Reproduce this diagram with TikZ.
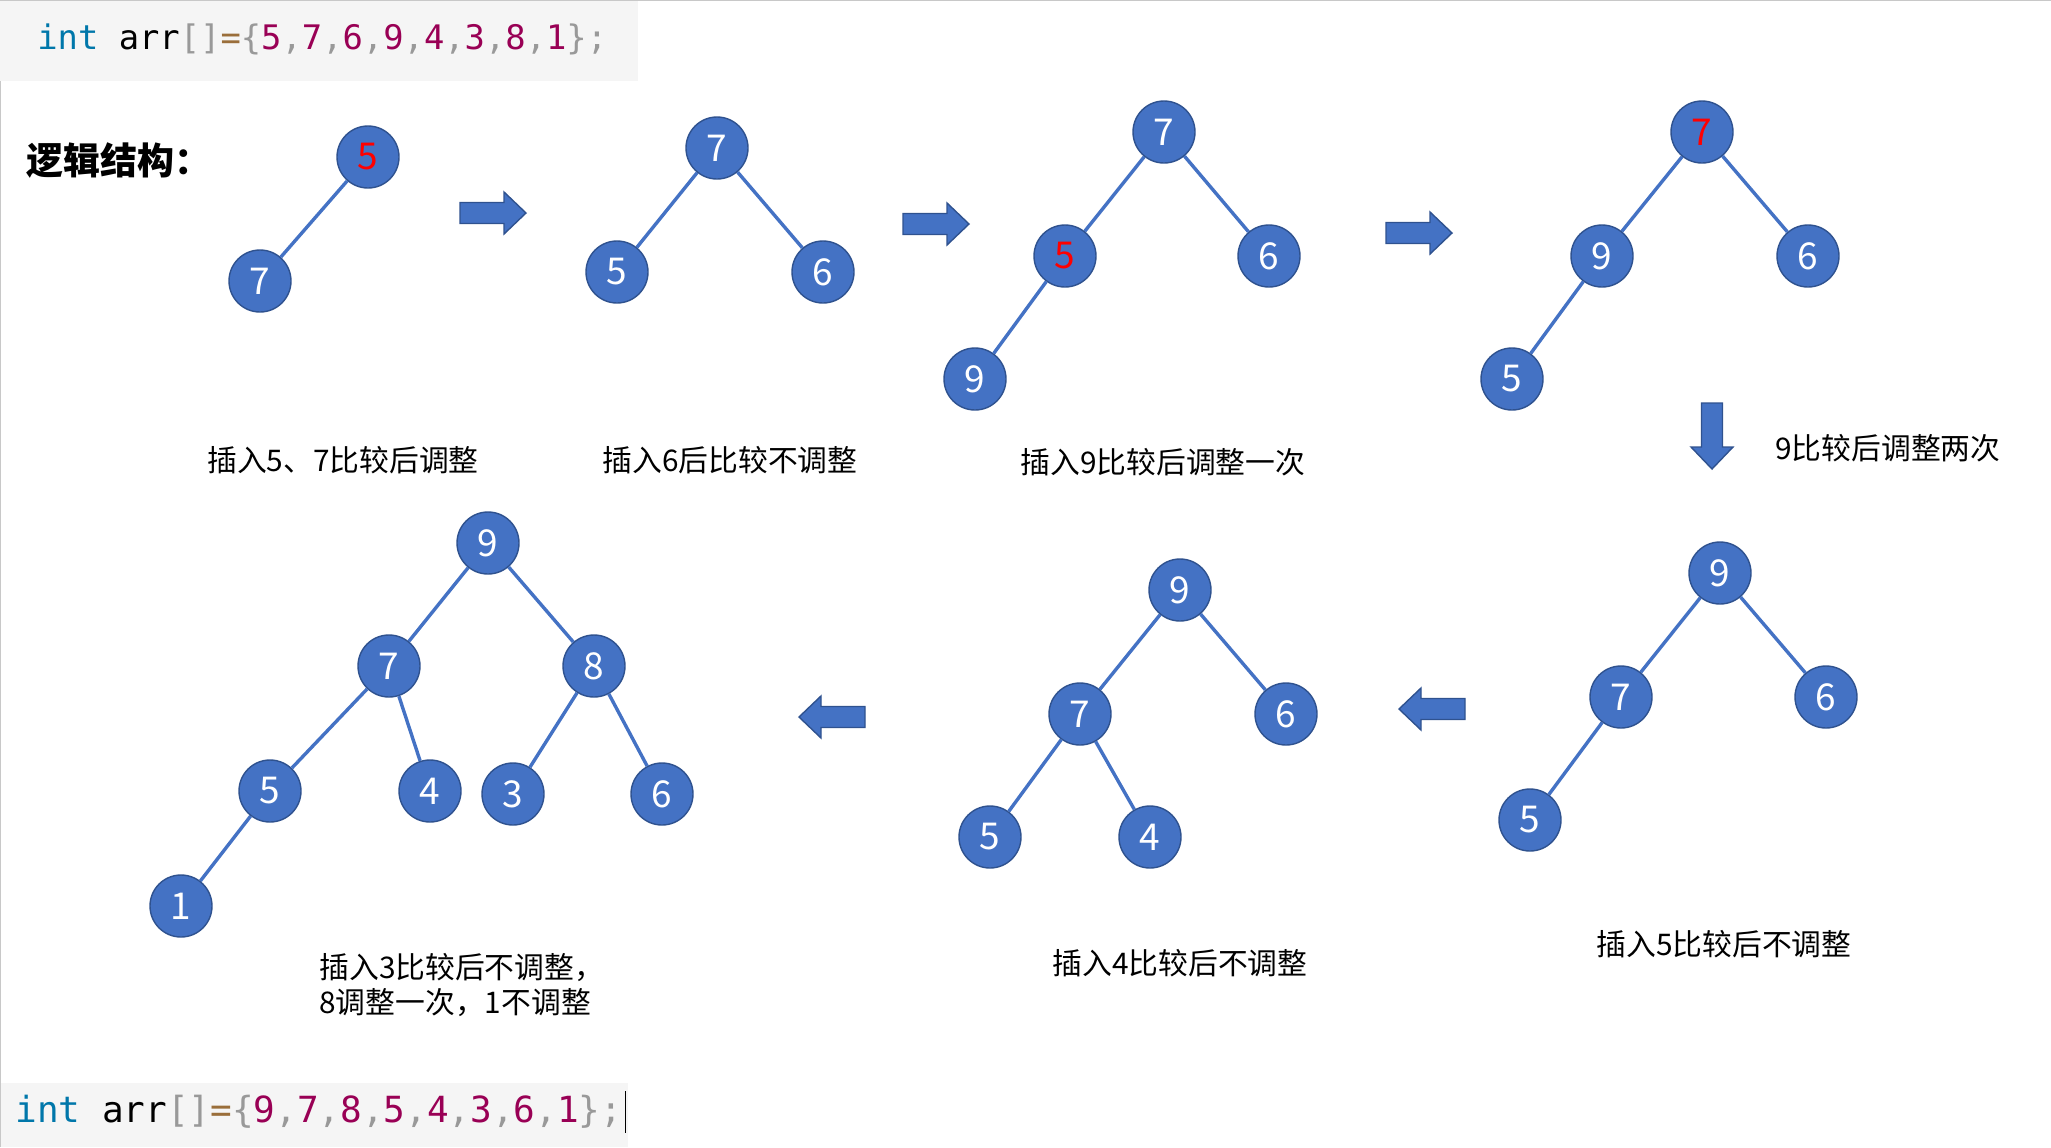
\documentclass[tikz,border=0pt]{standalone}
\usepackage{fontspec}
\usepackage{xcolor}
\usetikzlibrary{positioning}
\setmonofont{DejaVu Sans Mono}
\newfontfamily\cjk{Noto Sans CJK SC}
\definecolor{HeapBlue}{HTML}{4472C4}
\definecolor{HeapEdge}{HTML}{2F528F}
\definecolor{HeapRed}{HTML}{FF0000}
\definecolor{CodeBack}{HTML}{F5F5F5}
\definecolor{CodeKey}{HTML}{0077AA}
\definecolor{CodePunc}{HTML}{999999}
\definecolor{CodeOp}{HTML}{9A6E3A}
\definecolor{CodeNum}{HTML}{990055}
\definecolor{FrameGray}{HTML}{C8C8C8}
\newcommand\codenum[1]{\textcolor{CodeNum}{#1}}
\newcommand\codepunc[1]{\textcolor{CodePunc}{#1}}
\newcommand\arrline[1]{\textcolor{CodeKey}{int} arr\codepunc{[]}%
  \textcolor{CodeOp}{=}\codepunc{\{}#1\codepunc{\};}}
\tikzset{
  harrow/.pic={
    \draw[blockarrow] (-33,-10.5) -- (11,-10.5) -- (11,-21) -- (33,0)
      -- (11,21) -- (11,10.5) -- (-33,10.5) -- cycle;
  }
}

\begin{document}
\begin{tikzpicture}[x=0.5pt,y=-0.5pt,
    heap/.style={circle,fill=HeapBlue,draw=HeapEdge,line width=0.7pt,
      minimum size=31pt,inner sep=0pt,text=white,
      font=\cjk\fontsize{18.5}{18.5}\selectfont},
    hot/.style={text=HeapRed},
    link/.style={draw=HeapBlue,line width=1.7pt},
    blockarrow/.style={fill=HeapBlue,draw=HeapEdge,line width=0.7pt},
    caption/.style={text=black,inner sep=0pt,
      font=\cjk\fontsize{14.9}{17.2}\selectfont},
    code/.style={anchor=west,inner sep=0pt}]
  \useasboundingbox (0,0) rectangle (2051,1147);
  \draw[FrameGray,line width=1pt] (0,1147) -- (0,0) -- (2051,0);

  % code lines
  \fill[CodeBack] (0,1) rectangle (638,81);
  \node[code,font=\ttfamily\fontsize{16.9}{20}\selectfont] (topcode) at (37,39)
    {\arrline{\codenum{5}\codepunc{,}\codenum{7}\codepunc{,}\codenum{6}\codepunc{,}%
      \codenum{9}\codepunc{,}\codenum{4}\codepunc{,}\codenum{3}\codepunc{,}%
      \codenum{8}\codepunc{,}\codenum{1}}};
  \fill[CodeBack] (1,1083) rectangle (628,1147);
  \node[code,font=\ttfamily\fontsize{18}{21}\selectfont] (botcode) at (15,1112)
    {\arrline{\codenum{9}\codepunc{,}\codenum{7}\codepunc{,}\codenum{8}\codepunc{,}%
      \codenum{5}\codepunc{,}\codenum{4}\codepunc{,}\codenum{3}\codepunc{,}%
      \codenum{6}\codepunc{,}\codenum{1}}};
  \draw[black,line width=0.8pt]
    ([xshift=1.5pt,yshift=2pt]botcode.north east) --
    ([xshift=1.5pt,yshift=-2pt]botcode.south east);

  \node[anchor=west,inner sep=0pt,font=\cjk\bfseries\fontsize{18.5}{20}\selectfont]
    (title) at (26,161) {逻辑结构：};

  % step 1
  \node[heap,hot] (s1n5) at (368,157) {5};
  \node[heap] (s1n7) at (260,281) {7};
  \draw[link] (s1n5) -- (s1n7);
  \node[caption] (cap1) at (343,460) {插入5、7比较后调整};
  \pic at (493,213) {harrow};

  % step 2
  \node[heap] (s2n7) at (717,148) {7};
  \node[heap] (s2n5) at (617,272) {5};
  \node[heap] (s2n6) at (823,272) {6};
  \draw[link] (s2n7) -- (s2n5);
  \draw[link] (s2n7) -- (s2n6);
  \node[caption] (cap2) at (730,460) {插入6后比较不调整};
  \pic at (936,224) {harrow};

  % step 3
  \node[heap] (s3n7) at (1164,132) {7};
  \node[heap,hot] (s3n5) at (1065,256) {5};
  \node[heap] (s3n6) at (1269,256) {6};
  \node[heap] (s3n9) at (975,379) {9};
  \draw[link] (s3n7) -- (s3n5);
  \draw[link] (s3n7) -- (s3n6);
  \draw[link] (s3n5) -- (s3n9);
  \node[caption] (cap3) at (1163,462) {插入9比较后调整一次};
  \pic at (1419,233) {harrow};

  % step 4
  \node[heap,hot] (s4n7) at (1702,132) {7};
  \node[heap] (s4n9) at (1602,256) {9};
  \node[heap] (s4n6) at (1808,256) {6};
  \node[heap] (s4n5) at (1512,379) {5};
  \draw[link] (s4n7) -- (s4n9);
  \draw[link] (s4n7) -- (s4n6);
  \draw[link] (s4n9) -- (s4n5);
  \pic[rotate=-90] at (1712,436) {harrow};
  \node[caption,anchor=west] (cap4) at (1775,448) {9比较后调整两次};

  % step 5
  \node[heap] (s5n9) at (1720,573) {9};
  \node[heap] (s5n7) at (1621,697) {7};
  \node[heap] (s5n6) at (1826,697) {6};
  \node[heap] (s5n5) at (1530,820) {5};
  \draw[link] (s5n9) -- (s5n7);
  \draw[link] (s5n9) -- (s5n6);
  \draw[link] (s5n7) -- (s5n5);
  \node[caption] (cap5) at (1724,944) {插入5比较后不调整};
  \pic[rotate=180] at (1432,709) {harrow};

  % step 6
  \node[heap] (s6n9) at (1180,590) {9};
  \node[heap] (s6n7) at (1080,714) {7};
  \node[heap] (s6n6) at (1286,714) {6};
  \node[heap] (s6n5) at (990,837) {5};
  \node[heap] (s6n4) at (1150,837) {4};
  \draw[link] (s6n9) -- (s6n7);
  \draw[link] (s6n9) -- (s6n6);
  \draw[link] (s6n7) -- (s6n5);
  \draw[link] (s6n7) -- (s6n4);
  \node[caption] (cap6) at (1180,963) {插入4比较后不调整};
  \pic[rotate=180] at (832,717) {harrow};

  % step 7
  \node[heap] (s7n9) at (488,543) {9};
  \node[heap] (s7n7) at (389,666) {7};
  \node[heap] (s7n8) at (594,666) {8};
  \node[heap] (s7n5) at (270,791) {5};
  \node[heap] (s7n4) at (430,791) {4};
  \node[heap] (s7n3) at (513,794) {3};
  \node[heap] (s7n6) at (662,794) {6};
  \node[heap] (s7n1) at (181,906) {1};
  \draw[link] (s7n9) -- (s7n7);
  \draw[link] (s7n9) -- (s7n8);
  \draw[link] (s7n7) -- (s7n5);
  \draw[link] (s7n7) -- (s7n4);
  \draw[link] (s7n8) -- (s7n3);
  \draw[link] (s7n8) -- (s7n6);
  \draw[link] (s7n5) -- (s7n1);
  \node[caption,anchor=west,align=left] (cap7) at (319,985)
    {插入3比较后不调整，\\8调整一次，1不调整};
\end{tikzpicture}
\end{document}
